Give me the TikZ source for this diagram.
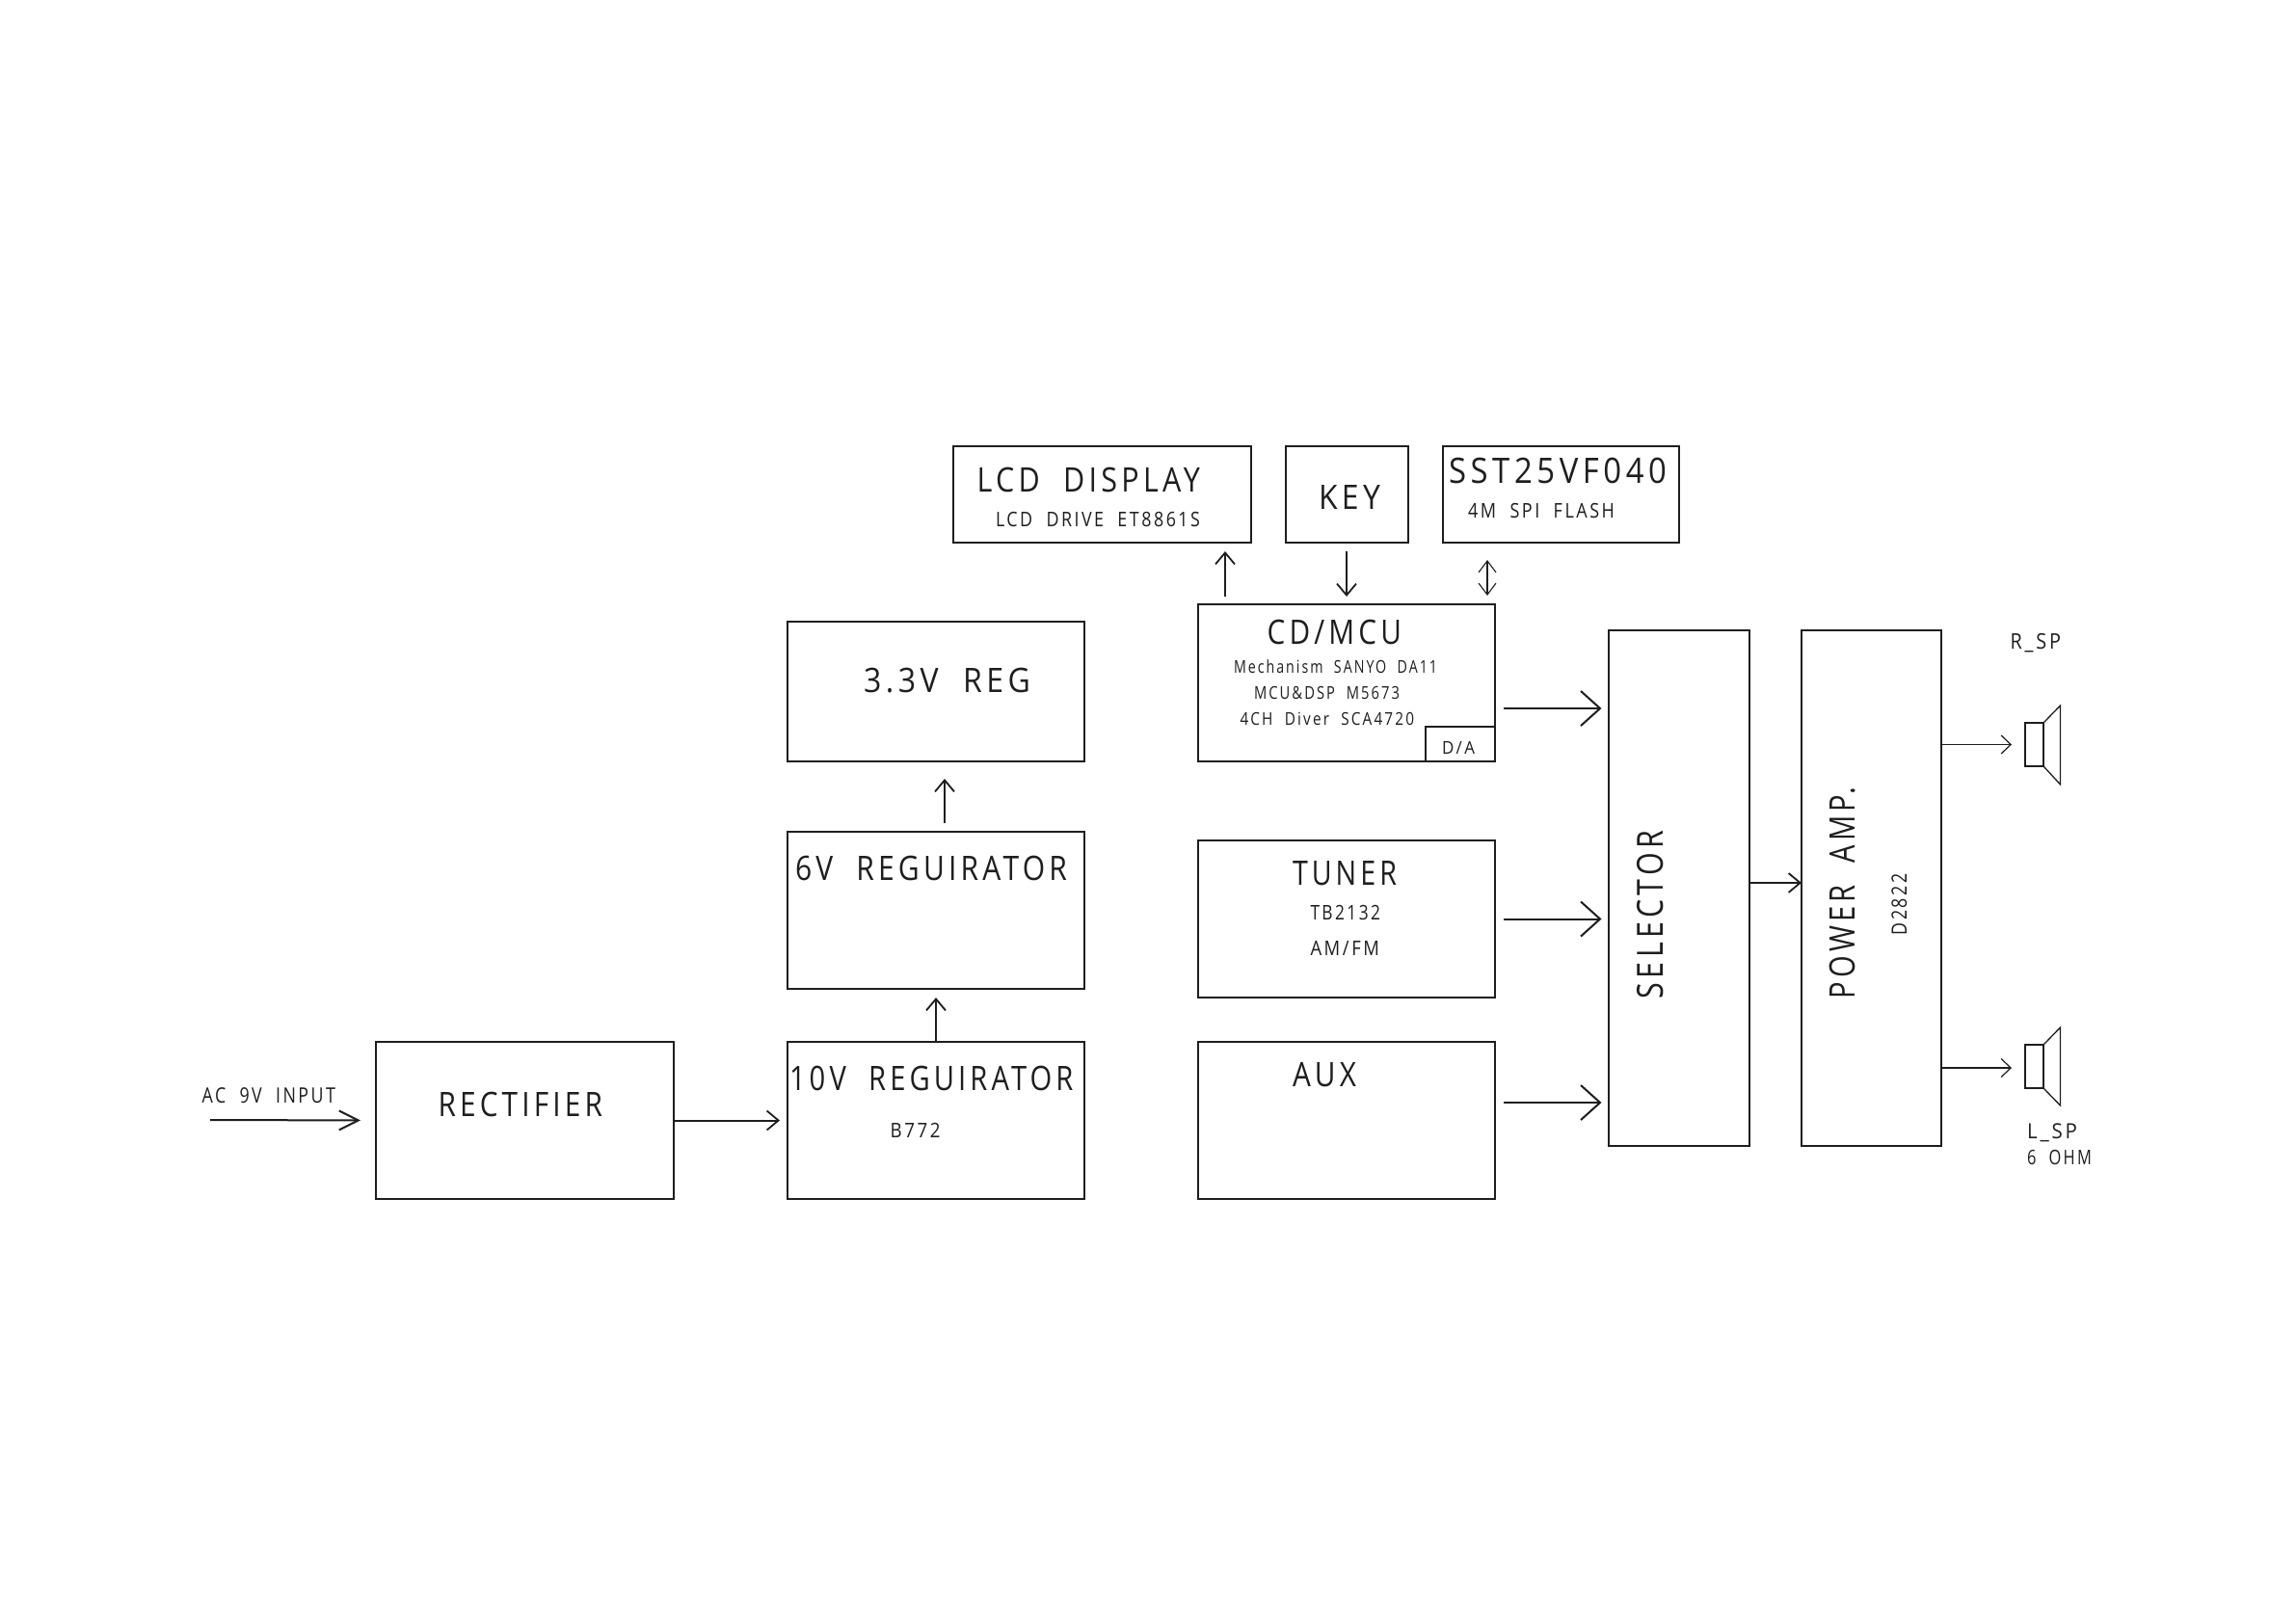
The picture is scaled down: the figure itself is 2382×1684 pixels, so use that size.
\documentclass[tikz,border=0pt]{standalone}
\usepackage{fontspec}
\usetikzlibrary{arrows.meta}
\newfontfamily\thinf{Open Sans}[LetterSpace=14]
\definecolor{ink}{HTML}{1E1E1E}
\tikzset{
  x=1pt,y=-1pt,
  block/.style={draw=ink,line width=2.6pt,rectangle,inner sep=0pt,outer sep=0pt,line join=miter},
  small/.style={draw=ink,line width=1.6pt,rectangle,inner sep=0pt,outer sep=0pt},
  txt/.style={inner sep=0pt,outer sep=0pt,text=ink},
  conn/.style={draw=ink,line width=2pt},
  fine/.style={draw=ink,line width=1.3pt},
  bigtip/.style={-{Straight Barb[length=20pt,width=36pt,line width=2pt]}},
  longtip/.style={-{Straight Barb[length=20pt,width=20pt,line width=2pt]}},
  medtip/.style={-{Straight Barb[length=12pt,width=20pt,line width=1.8pt]}},
  finetip/.style={-{Straight Barb[length=10pt,width=19pt,line width=1.2pt]}},
  bothtip/.style={{Straight Barb[length=12pt,width=18pt,line width=1.1pt]}-{Straight Barb[length=12pt,width=18pt,line width=1.1pt]}},
}
\newcommand\blk[6][block]{%
  \pgfmathsetmacro\bw{#5-#3}\pgfmathsetmacro\bh{#6-#4}%
  \node[#1,anchor=north west,minimum width=\bw pt,minimum height=\bh pt] (#2) at (#3,#4) {};}
\newcommand\fitted[3]{\resizebox{#1pt}{#2pt}{\thinf\fontsize{40}{40}\selectfont\raisebox{0pt}[0.714em][0pt]{#3}}}
\newcommand\lbl[6]{%
  \pgfmathsetmacro\tw{#4-#2}\pgfmathsetmacro\th{#5-#3}%
  \pgfmathsetmacro\tx{(#4+#2)/2}\pgfmathsetmacro\ty{(#5+#3)/2}%
  \node[txt] (#1) at (\tx,\ty) {\fitted{\tw}{\th}{#6}};}
\newcommand\vlbl[6]{%
  \pgfmathsetmacro\tw{#5-#3}\pgfmathsetmacro\th{#4-#2}%
  \pgfmathsetmacro\tx{(#4+#2)/2}\pgfmathsetmacro\ty{(#5+#3)/2}%
  \node[txt,rotate=90] (#1) at (\tx,\ty) {\fitted{\tw}{\th}{#6}};}
\begin{document}
\begin{tikzpicture}
\useasboundingbox[fill=white] (0,0) rectangle (2382,1684);
% blocks
\blk{lcd}{989}{463}{1298}{563}
\blk{key}{1334}{463}{1461}{563}
\blk{sst}{1497}{463}{1742}{563}
\blk{cd}{1243}{627}{1551}{790}
\blk[small]{da}{1479}{754}{1551}{790}
\blk{reg}{817}{645}{1125}{790}
\blk{six}{817}{863}{1125}{1026}
\blk{ten}{817}{1081}{1125}{1244}
\blk{rect}{390}{1081}{699}{1244}
\blk{tuner}{1243}{872}{1551}{1035}
\blk{aux}{1243}{1081}{1551}{1244}
\blk{sel}{1669}{654}{1815}{1189}
\blk{amp}{1869}{654}{2014}{1189}
% speakers
\blk[small]{spkr}{2101}{750}{2120}{795}
\blk[small]{spkl}{2101}{1084}{2120}{1129}
\draw[draw=ink,line width=1.3pt] (spkr.north east) -- (2137.5,732) -- (2137.5,814) -- (spkr.south east);
\draw[draw=ink,line width=1.3pt] (spkl.north east) -- (2137.5,1066) -- (2137.5,1147) -- (spkl.south east);
% labels
\lbl{tlcd}{1013.6}{485}{1245}{510}{LCD~~DISPLAY}
\lbl{tlcdb}{1033}{531}{1245}{546}{LCD~~DRIVE~~ET8861S}
\lbl{tkey}{1368}{503}{1432}{528}{KEY}
\lbl{tsst}{1503}{475}{1729}{501}{SST25VF040}
\lbl{tsstb}{1523}{522}{1675}{537}{4M~~SPI~~FLASH}
\lbl{tcd}{1314.6}{643}{1454}{668}{CD/MCU}
\lbl{tcda}{1280}{685}{1491}{698}{Mechanism~~SANYO~~DA11}
\lbl{tcdb}{1301}{712}{1452}{725}{MCU\&DSP~~M5673}
\lbl{tcdc}{1286.5}{739}{1467}{752}{4CH~~Diver~~SCA4720}
\lbl{tda}{1496}{769}{1530}{782}{D/A}
\lbl{treg}{896}{693}{1069}{718}{3.3V~~REG}
\lbl{trect}{454.5}{1133}{625}{1158}{RECTIFIER}
\lbl{tac}{209.6}{1129}{348}{1144.7}{AC~~9V~~INPUT}
\lbl{tten}{819}{1106}{1113.5}{1131}{10V~~REGUIRATOR}
\lbl{tb}{923.6}{1165}{975.7}{1180}{B772}
\lbl{tsix}{825}{888}{1107}{913}{6V~~REGUIRATOR}
\lbl{ttun}{1341}{893}{1449}{918}{TUNER}
\lbl{ttb}{1359.5}{939}{1432}{954}{TB2132}
\lbl{tam}{1359.5}{976}{1431}{991}{AM/FM}
\lbl{taux}{1341}{1102}{1407}{1127}{AUX}
\vlbl{tsel}{1699}{862}{1725.7}{1036}{SELECTOR}
\vlbl{tpow}{1898.6}{817}{1924.6}{1036}{POWER~~AMP.}
\vlbl{tdd}{1962.5}{906.6}{1978}{970}{D2822}
\lbl{trsp}{2085.7}{657.5}{2138}{673.4}{R\_SP}
\lbl{tlsp}{2103}{1165.5}{2155}{1181}{L\_SP}
\lbl{tohm}{2103}{1193}{2170}{1208}{6~~OHM}
% connector helper coordinates
\coordinate (acin) at (218,1162);
\coordinate (xlcd) at (1271,600);
\coordinate (xkey) at (1397,600);
\coordinate (xsst) at (1543,600);
\coordinate (xsix) at (980,830);
\coordinate (ycd) at (1600,735);
\coordinate (yaux) at (1600,1144);
\coordinate (ysel) at (1840,916);
\coordinate (yspl) at (2050,1108);
% connectors
\draw[conn,longtip,shorten >=16pt] (acin) -- (rect.west);
\draw[conn,medtip,shorten >=8pt] (rect.east) -- (ten.west);
\draw[conn,line width=1.8pt,medtip,shorten >=9pt] (ten.north) -- (six.south);
\draw[conn,line width=1.8pt,medtip,shorten <=9pt,shorten >=18pt] (xsix |- six.north) -- (xsix |- reg.south);
\draw[conn,medtip,shorten <=8pt,shorten >=9pt] (xlcd |- cd.north) -- (xlcd |- lcd.south);
\draw[conn,medtip,shorten <=9pt,shorten >=8pt] (xkey |- key.south) -- (xkey |- cd.north);
\draw[fine,bothtip,shorten <=18pt,shorten >=9pt] (xsst |- sst.south) -- (xsst |- cd.north);
\draw[conn,bigtip,shorten <=9pt,shorten >=7.5pt] (ycd -| cd.east) -- (ycd -| sel.west);
\draw[conn,bigtip,shorten <=9pt,shorten >=7.5pt] (tuner.east) -- (tuner.east -| sel.west);
\draw[conn,bigtip,shorten <=9pt,shorten >=7.5pt] (yaux -| aux.east) -- (yaux -| sel.west);
\draw[conn,medtip] (ysel -| sel.east) -- (ysel -| amp.west);
\draw[fine,finetip,shorten >=14pt] (spkr.west -| amp.east) -- (spkr.west);
\draw[fine,finetip,shorten >=14pt] (yspl -| amp.east) -- (yspl -| spkl.west);
\end{tikzpicture}
\end{document}
